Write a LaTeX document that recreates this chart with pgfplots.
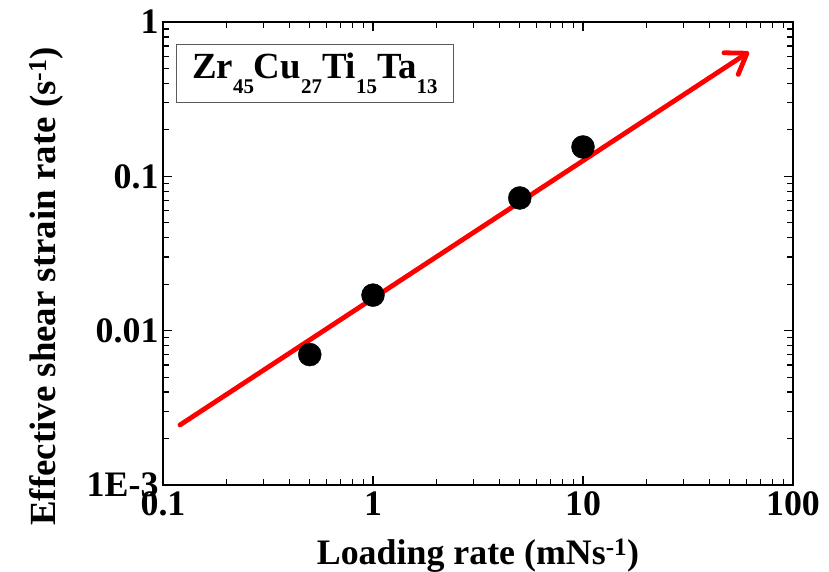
\documentclass[border=0pt]{standalone}
\usepackage{pgfplots}
\pgfplotsset{compat=1.18}
\usepackage{fontspec}
\setmainfont{Liberation Serif}
\usetikzlibrary{arrows.meta}
\begin{document}
\begin{tikzpicture}
\useasboundingbox (-163bp,-87bp) rectangle (666bp,485bp);
\begin{axis}[
  at={(0,0)}, anchor=south west,
  scale only axis, width=630bp, height=463bp,
  xmode=log, ymode=log,
  xmin=0.1, xmax=100, ymin=0.001, ymax=1,
  xtick={0.1,1,10,100}, xticklabels={0.1,1,10,100},
  ytick={0.001,0.01,0.1,1}, yticklabels={1E-3,0.01,0.1,1},
  /pgf/number format/assume math mode=true,
  tick label style={font=\fontsize{36}{36}\selectfont\bfseries},
  xticklabel style={yshift=-3bp},
  yticklabel style={xshift=-1bp},
  axis line style={line width=1.5bp},
  major tick style={line width=1.5bp,black},
  minor tick style={line width=1.2bp,black},
  major tick length=9bp, minor tick length=6bp,
  tick align=inside,
  xlabel={Loading rate (mNs\textsuperscript{-1})},
  ylabel={Effective shear strain rate (s\textsuperscript{-1})},
  xlabel style={at={(rel axis cs:0.5,0)}, anchor=base, yshift=-79bp, font=\fontsize{36}{36}\selectfont\bfseries},
  ylabel style={at={(rel axis cs:-0.185,0.429)}, anchor=center, font=\fontsize{37}{37}\selectfont\bfseries},
]
\addplot[only marks, mark=*, mark size=11.5bp, black] coordinates {
  (0.5,0.007) (1,0.017) (5,0.0724) (10,0.155)
};
\addplot[red, line width=4.8bp, line cap=round, -{Straight Barb[length=19bp,width=26bp,round]}] coordinates {
  (0.1205,0.00245) (61.7,0.64)
};
\node[draw=black!65, line width=0.8bp, anchor=north west, minimum width=277bp, minimum height=58bp, inner sep=0pt,
      font=\fontsize{37}{37}\selectfont\bfseries] at (rel axis cs:0.0206,0.9525)
  {Zr\raisebox{-15bp}{\fontsize{21}{21}\selectfont 45}Cu\raisebox{-15bp}{\fontsize{21}{21}\selectfont 27}Ti\raisebox{-15bp}{\fontsize{21}{21}\selectfont 15}Ta\raisebox{-15bp}{\fontsize{21}{21}\selectfont 13}};
\end{axis}
\end{tikzpicture}
\end{document}
